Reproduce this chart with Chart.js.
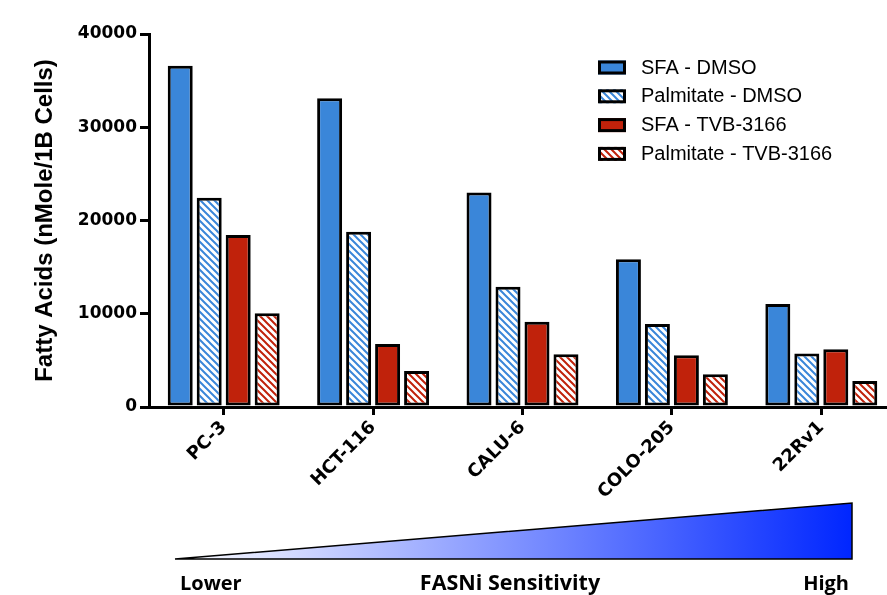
<!DOCTYPE html>
<html>
<head>
<meta charset="utf-8">
<script src="https://cdn.jsdelivr.net/npm/chart.js@4.4.0/dist/chart.umd.min.js"></script>
<style>
  html, body { margin: 0; padding: 0; background: #fff; overflow: hidden; }
  #contenedor { position: relative; width: 887px; height: 595px; overflow: hidden; }
  #grafico { position: absolute; left: 0; top: 0; }
  #escala { position: absolute; left: 0; top: 0; pointer-events: none; }
  #escala text { font-family: "Open Sans", sans-serif; font-weight: 700; font-size: 20px; fill: #000; }
</style>
</head>
<body>
<div id="contenedor">
  <canvas id="grafico" width="900" height="595"></canvas>
  <svg id="escala" width="887" height="595">
    <defs>
      <linearGradient id="degradado" x1="175" y1="0" x2="852" y2="0" gradientUnits="userSpaceOnUse">
        <stop offset="0" stop-color="#ffffff"/>
        <stop offset="1" stop-color="#0026ff"/>
      </linearGradient>
    </defs>
    <polygon points="175,559 852,503 852,559" fill="url(#degradado)" stroke="#000" stroke-width="1.5"/>
    <text x="180" y="590">Lower</text>
    <text x="510" y="590" text-anchor="middle" style="font-size:21.5px">FASNi Sensitivity</text>
    <text x="849" y="590" text-anchor="end">High</text>
  </svg>
</div>
<script>
// datos
const lineasCelulares = ["PC-3", "HCT-116", "CALU-6", "COLO-205", "22Rv1"];
const sfaDmso = [36600, 33100, 23000, 15850, 11050];
const palmitatoDmso = [22450, 18800, 12900, 8900, 5750];
const sfaTvb = [18450, 6750, 9150, 5550, 6200];
const palmitatoTvb = [10050, 3850, 5650, 3500, 2800];
const ticksY = [0, 10000, 20000, 30000, 40000];

const azul = "rgb(58, 134, 217)";
const rojo = "rgb(192, 34, 11)";

const lienzo = document.getElementById("grafico");
const ctxGrafico = lienzo.getContext("2d");

// rayado diagonal para las barras de palmitato
const crearRayado = (color) => {
  const t = 7;
  const c = document.createElement("canvas");
  c.width = t;
  c.height = t;
  const g = c.getContext("2d");
  g.fillStyle = "#fff";
  g.fillRect(0, 0, t, t);
  g.strokeStyle = color;
  g.lineWidth = 2;
  g.beginPath();
  g.moveTo(-1, -1); g.lineTo(t + 1, t + 1);
  g.moveTo(t - 1, -1); g.lineTo(t + 1, 1);
  g.moveTo(-1, t - 1); g.lineTo(1, t + 1);
  g.stroke();
  return ctxGrafico.createPattern(c, "repeat");
};

const leyendaLateral = {
  id: "leyendaLateral",
  afterDraw(chart) {
    const ctx = chart.ctx;
    ctx.save();
    chart.data.datasets.forEach((ds, i) => {
      const y = 67 + i * 28.8;
      ctx.fillStyle = ds.backgroundColor;
      ctx.fillRect(598, y - 6.5, 28, 14);
      ctx.strokeStyle = "#000";
      ctx.lineWidth = 3;
      ctx.strokeRect(599.5, y - 5, 25, 11);
      ctx.fillStyle = "#000";
      ctx.font = "20px 'Liberation Sans', Arial, sans-serif";
      ctx.textBaseline = "middle";
      ctx.fillText(ds.label, 641, y + 1);
    });
    ctx.restore();
  }
};

const estiloBarra = {
  borderColor: "#000",
  borderWidth: 3,
  borderSkipped: false,
  categoryPercentage: 0.776,
  barPercentage: 0.862
};

new Chart(lienzo, {
  type: "bar",
  data: {
    labels: lineasCelulares,
    datasets: [
      { label: "SFA - DMSO", data: sfaDmso, backgroundColor: azul, ...estiloBarra },
      { label: "Palmitate - DMSO", data: palmitatoDmso, backgroundColor: crearRayado(azul), ...estiloBarra },
      { label: "SFA - TVB-3166", data: sfaTvb, backgroundColor: rojo, ...estiloBarra },
      { label: "Palmitate - TVB-3166", data: palmitatoTvb, backgroundColor: crearRayado(rojo), ...estiloBarra }
    ]
  },
  options: {
    responsive: false,
    animation: false,
    devicePixelRatio: 1,
    layout: { padding: { top: 34, right: 4, left: 0, bottom: 0 } },
    plugins: {
      legend: { display: false },
      tooltip: { enabled: false }
    },
    scales: {
      x: {
        afterFit: (s) => { s.height = 188; },
        grid: { display: true, drawOnChartArea: false, drawTicks: true, tickLength: 8, lineWidth: 3, color: "#000", offset: false },
        border: { display: true, width: 3, color: "#000" },
        ticks: {
          color: "#000",
          maxRotation: 45,
          minRotation: 45,
          padding: 2,
          font: { family: "'DejaVu Sans'", weight: "bold", size: 18 }
        }
      },
      y: {
        min: 0,
        max: 40000,
        afterFit: (s) => { s.width = 149; },
        afterBuildTicks: (s) => { s.ticks = ticksY.map((v) => ({ value: v })); },
        grid: { display: true, drawOnChartArea: false, drawTicks: true, tickLength: 9, lineWidth: 3, color: "#000" },
        border: { display: true, width: 3, color: "#000" },
        ticks: {
          color: "#000",
          padding: 3,
          callback: (v) => String(v),
          font: { family: "'DejaVu Sans'", weight: "bold", size: 17 }
        },
        title: {
          display: true,
          text: "Fatty Acids (nMole/1B Cells)",
          color: "#000",
          padding: { top: 31, bottom: 0 },
          font: { family: "'Liberation Sans', Arial", weight: "bold", size: 24 }
        }
      }
    }
  },
  plugins: [leyendaLateral]
});
</script>
</body>
</html>
